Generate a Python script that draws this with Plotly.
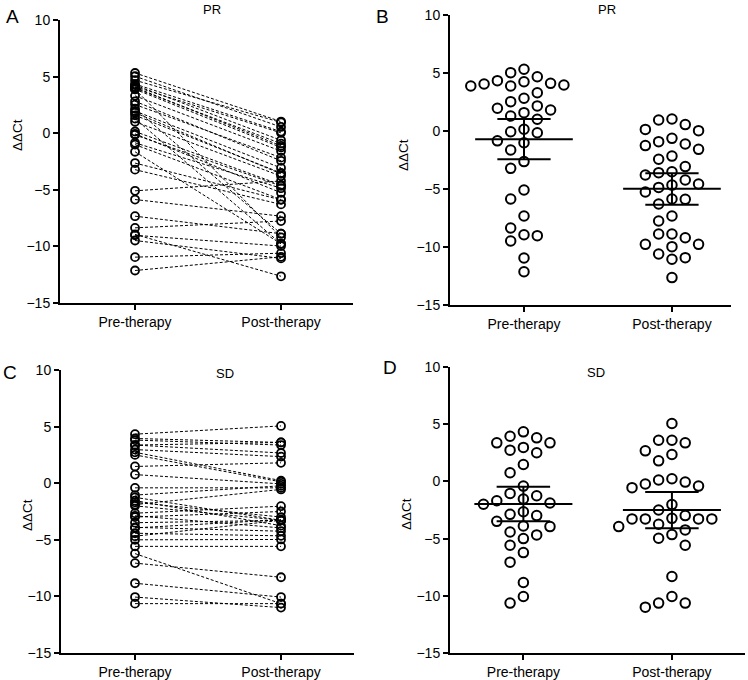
import numpy as np
import plotly.graph_objects as go

# ---------------- data ----------------
categories = ["Pre-therapy", "Post-therapy"]
y_ticks = [10, 5, 0, -5, -10, -15]

# PR group, paired (same index = same patient)
pr_pre = [5.32, 5.03, 4.68, 4.34, 4.25, 4.11, 4.05, 3.97, 3.88, 3.88,
          3.30, 2.82, 2.53, 2.16, 1.96, 1.81, 1.58, 1.29, 1.01, 0.15,
          -0.06, -0.15, -0.85, -1.01, -1.64, -2.64, -3.22, -5.09, -5.86, -7.33,
          -8.36, -8.94, -9.02, -9.48, -10.95, -12.13]
pr_post = [1.03, 0.55, 0.95, 0.14, -0.63, 0.03, -1.12, -0.92, -9.20, -1.26,
           -1.58, -2.44, -2.16, -8.88, -3.07, -3.59, -3.51, -9.77, -3.79, -4.57,
           -5.26, -4.66, -4.86, -5.86, -9.77, -5.89, -6.29, -4.22, -7.33, -8.88,
           -7.76, -12.64, -9.97, -11.06, -10.60, -10.92]

# SD group, paired
sd_pre = [4.33, 3.95, 3.81, 3.37, 3.37, 2.97, 2.73, 2.50, 1.48, 0.76,
          -0.41, -1.05, -1.25, -1.54, -1.69, -1.89, -2.00, -2.65, -2.88, -2.99,
          -3.49, -3.90, -3.95, -4.42, -4.68, -5.00, -5.58, -6.22, -7.06, -8.84,
          -10.06, -10.64]
sd_post = [5.06, 3.60, 3.37, 3.60, 2.67, 2.35, 0.23, 0.12, 1.80, -0.06,
           -0.41, -0.23, -3.28, -3.75, -2.99, -0.55, -3.28, -2.03, -3.95, -2.50,
           -3.28, -4.24, -3.23, -4.65, -3.28, -4.97, -5.58, -10.64, -8.31, -10.06,
           -10.99, -10.64]

pr_mean = [-0.72, -4.97]
pr_ci_low = [-2.44, -6.35]
pr_ci_high = [1.03, -3.65]
sd_mean = [-1.98, -2.50]
sd_ci_low = [-3.49, -4.10]
sd_ci_high = [-0.47, -0.93]

# ---------------- layout geometry ----------------
W, H = 748, 680
FONT = "Liberation Sans, Arial, Helvetica, sans-serif"

# pixel boxes in window coords: (x0, x1, ytop, ybot, xrange)
panels = {
    1: (60, 353, 20, 303, [-0.514, 1.493]),
    2: (450, 731, 15, 305, [-0.50, 1.399]),
    3: (61, 354, 370, 653, [-0.507, 1.50]),
    4: (450, 745, 367, 653, [-0.494, 1.492]),
}


def px(x):
    return x / W


def py(y):
    return 1 - y / H


def swarm(values, center, px_per_x, px_per_y, step=13.3, min_dist=12.4):
    """Simple beeswarm: place each point at the nearest free column."""
    order = np.argsort(values)[::-1]
    placed = []
    xs = [0.0] * len(values)
    cands = [0]
    for j in range(1, 12):
        cands += [-j, j]
    for i in order:
        yp = values[i] * px_per_y
        xp = 0.0
        for c in cands:
            xp = c * step
            if all((xp - a) ** 2 + (yp - b) ** 2 >= min_dist ** 2 for a, b in placed):
                break
        placed.append((xp, yp))
        xs[i] = center + xp / px_per_x
    return xs


fig = go.Figure()

# ---- Panels A and C: paired dashed lines ----
for ax, pre, post in [(1, pr_pre, pr_post), (3, sd_pre, sd_post)]:
    lx, ly = [], []
    for a, b in zip(pre, post):
        lx += [0, 1, None]
        ly += [a, b, None]
    sfx = "" if ax == 1 else str(ax)
    fig.add_trace(go.Scatter(x=lx, y=ly, mode="lines",
                             line=dict(color="black", width=1, dash="3px,2px"),
                             xaxis="x" + sfx, yaxis="y" + sfx,
                             hoverinfo="skip", showlegend=False))
    fig.add_trace(go.Scatter(x=[0] * len(pre) + [1] * len(post), y=pre + post,
                             mode="markers",
                             marker=dict(symbol="circle-open", size=8, color="black",
                                         line=dict(width=1.8, color="black")),
                             xaxis="x" + sfx, yaxis="y" + sfx, showlegend=False))

# ---- Panels B and D: scatter (swarm) with mean and CI ----
for ax, pre, post, mean, lo, hi in [(2, pr_pre, pr_post, pr_mean, pr_ci_low, pr_ci_high),
                                    (4, sd_pre, sd_post, sd_mean, sd_ci_low, sd_ci_high)]:
    x0, x1, yt, yb, xr = panels[ax]
    pxx = (x1 - x0) / (xr[1] - xr[0])
    pxy = (yb - yt) / 25.0
    sfx = str(ax)
    xs = swarm(pre, 0, pxx, pxy) + swarm(post, 1, pxx, pxy)
    fig.add_trace(go.Scatter(x=xs, y=pre + post, mode="markers",
                             marker=dict(symbol="circle-open", size=9.5, color="black",
                                         line=dict(width=2, color="black")),
                             xaxis="x" + sfx, yaxis="y" + sfx, showlegend=False))
    sx, sy = [], []
    for i in range(2):
        sx += [i - 0.33, i + 0.33, None, i - 0.18, i + 0.18, None,
               i - 0.18, i + 0.18, None, i, i, None]
        sy += [mean[i], mean[i], None, lo[i], lo[i], None,
               hi[i], hi[i], None, lo[i], hi[i], None]
    fig.add_trace(go.Scatter(x=sx, y=sy, mode="lines",
                             line=dict(color="black", width=2),
                             xaxis="x" + sfx, yaxis="y" + sfx,
                             hoverinfo="skip", showlegend=False))

layout = dict(
    width=W, height=H, autosize=False,
    margin=dict(l=0, r=0, t=0, b=0, pad=0, autoexpand=False),
    paper_bgcolor="white", plot_bgcolor="white",
    font=dict(family=FONT, size=13, color="black"),
    showlegend=False,
)

for ax, (x0, x1, yt, yb, xr) in panels.items():
    sfx = "" if ax == 1 else str(ax)
    layout["xaxis" + sfx] = dict(
        domain=[px(x0), px(x1)], range=xr, anchor="y" + sfx,
        tickmode="array", tickvals=[0, 1], ticktext=categories,
        showline=True, linecolor="black", linewidth=2,
        ticks="outside", ticklen=5, tickwidth=2, tickcolor="black",
        showgrid=False, zeroline=False, fixedrange=True, automargin=False,
        tickfont=dict(family=FONT, size=14, color="black"),
    )
    layout["yaxis" + sfx] = dict(
        domain=[py(yb), py(yt)], range=[-15, 10], anchor="x" + sfx,
        tickmode="array", tickvals=y_ticks,
        showline=True, linecolor="black", linewidth=2,
        ticks="outside", ticklen=5, tickwidth=2, tickcolor="black",
        showgrid=False, zeroline=False, fixedrange=True, automargin=False,
        tickfont=dict(family=FONT, size=14, color="black"),
    )

fig.update_layout(**layout)

# annotations: panel letters, titles, y-axis titles
ann = []


def add(text, x, y, size, angle=0):
    ann.append(dict(text=text, x=px(x), y=py(y), xref="paper", yref="paper",
                    showarrow=False, textangle=angle, xanchor="center", yanchor="middle",
                    font=dict(family=FONT, size=size, color="black")))


add("A", 12, 16, 19)
add("B", 382, 16, 19)
add("C", 10, 372, 19)
add("D", 390, 367, 19)
add("PR", 212, 10, 13)
add("PR", 607, 10, 13)
add("SD", 225, 373, 13)
add("SD", 596, 372, 13)
add("ΔΔCt", 18, 135, 13.5, -90)
add("ΔΔCt", 404, 155, 13.5, -90)
add("ΔΔCt", 27, 515, 13.5, -90)
add("ΔΔCt", 406, 514, 13.5, -90)
fig.update_layout(annotations=ann)

# remove the default page margin so the figure sits at the window's corner
fig.write_html("out.html",
               config={"displayModeBar": False, "staticPlot": True},
               post_script="document.body.style.margin='0';document.body.style.overflow='hidden';")
